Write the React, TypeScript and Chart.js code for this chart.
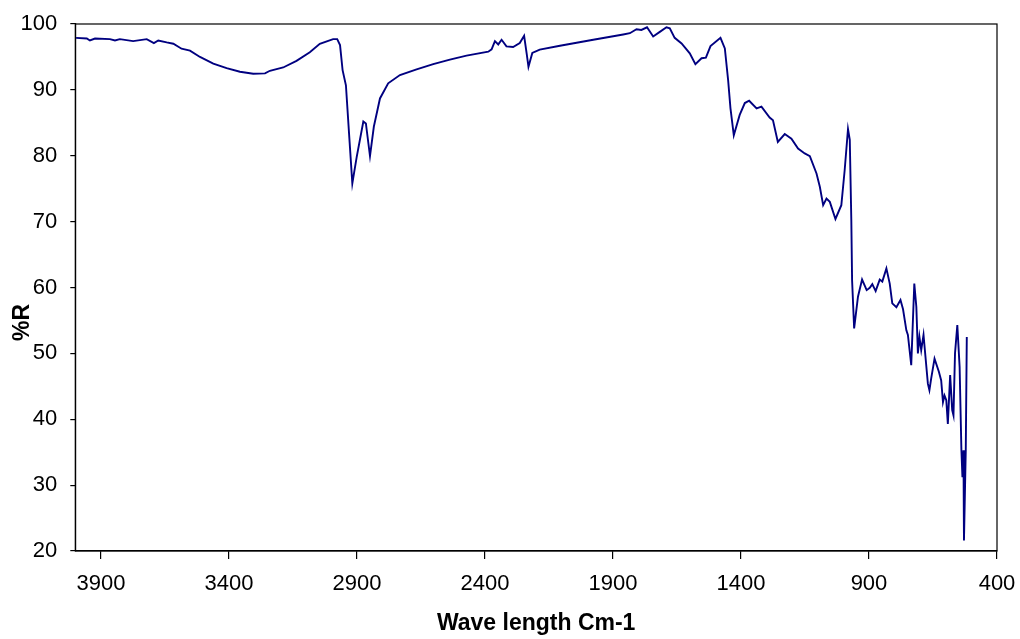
import React, { useEffect, useRef } from "react";
import { Chart, registerables } from "chart.js";

Chart.register(...registerables);

const wavenumbers: number[] = [
  3997, 3955, 3943, 3923, 3865, 3845, 3826, 3774, 3721, 3693, 3676, 3643, 3617, 3585, 3552,
  3513, 3461, 3409, 3357, 3305, 3259, 3240, 3188, 3136, 3084, 3045, 2993, 2977, 2966, 2956,
  2943, 2930, 2918, 2901, 2875, 2865, 2849, 2834, 2810, 2778, 2732, 2667, 2602, 2537, 2472,
  2387, 2374, 2361, 2348, 2335, 2316, 2290, 2264, 2247, 2237, 2230, 2215, 2186, 2107, 1977,
  1860, 1834, 1808, 1789, 1767, 1743, 1717, 1691, 1678, 1659, 1632, 1600, 1578, 1554, 1537,
  1519, 1480, 1463, 1450, 1441, 1428, 1405, 1385, 1368, 1339, 1320, 1288, 1275, 1256, 1229,
  1203, 1177, 1151, 1131, 1105, 1092, 1079, 1066, 1053, 1031, 1008, 995, 982, 975, 969,
  966, 958, 943, 927, 909, 897, 887, 874, 858, 848, 832, 819, 809, 793, 777,
  767, 754, 748, 735, 723, 715, 709, 703, 696, 687, 670, 664, 657, 644, 627,
  618, 611, 605, 598, 592, 583, 575, 570, 564, 555, 546, 539, 535, 531, 529,
  522, 518,
];

const reflectance: number[] = [
  97.9, 97.8, 97.5, 97.8, 97.7, 97.5, 97.7, 97.4, 97.7, 97.1, 97.5, 97.2, 97.0, 96.25, 95.95,
  95.0, 94.0, 93.3, 92.75, 92.45, 92.5, 92.9, 93.4, 94.4, 95.7, 97.0, 97.7, 97.7, 96.8, 93.0,
  90.7, 82.9, 75.8, 79.8, 85.2, 84.9, 79.95, 84.4, 88.7, 91.0, 92.25, 93.1, 93.9, 94.6, 95.2,
  95.8, 96.15, 97.4, 96.9, 97.6, 96.6, 96.5, 97.1, 98.2, 95.5, 93.5, 95.6, 96.1, 96.7, 97.6,
  98.4, 98.6, 99.2, 99.1, 99.5, 98.1, 98.8, 99.5, 99.35, 97.9, 97.05, 95.55, 93.9, 94.8, 94.9,
  96.65, 97.9, 96.3, 91.4, 87.2, 83.1, 86.2, 88.0, 88.35, 87.2, 87.45, 85.8, 85.4, 82.1, 83.3,
  82.6, 81.1, 80.35, 79.95, 77.3, 75.3, 72.5, 73.5, 73.0, 70.4, 72.5, 77.8, 84.05, 82.4, 70.2,
  61.1, 53.8, 58.6, 61.2, 59.6, 59.95, 60.5, 59.45, 61.2, 60.9, 62.9, 60.6, 57.6, 57.0, 58.1,
  56.7, 53.5, 52.8, 48.2, 60.6, 57.05, 50.0, 52.5, 50.5, 52.8, 45.4, 44.4, 46.2, 49.2, 47.2,
  45.9, 42.6, 43.6, 42.9, 39.3, 46.7, 41.4, 40.6, 50.0, 54.3, 47.95, 35.3, 31.2, 35.3, 21.6,
  35.3, 52.5,
];

const xTickValues: number[] = [3900, 3400, 2900, 2400, 1900, 1400, 900, 400];
const xTitle = "Wave length Cm-1";
const yTitle = "%R";

const FONT = '"Liberation Sans", Arial, Helvetica, sans-serif';

const framePlugin = {
  id: "frame",
  afterDraw(chart: any) {
    const { ctx, chartArea } = chart;
    ctx.save();
    ctx.strokeStyle = "#000";
    ctx.lineWidth = 1.2;
    ctx.strokeRect(chartArea.left, chartArea.top, chartArea.right - chartArea.left, chartArea.bottom - chartArea.top);
    // y-axis title, placed as in the original (slightly below the plot centre)
    ctx.translate(22.5, 322.5);
    ctx.rotate(-Math.PI / 2);
    ctx.fillStyle = "#000";
    ctx.font = `bold 23px ${FONT}`;
    ctx.textAlign = "center";
    ctx.textBaseline = "middle";
    ctx.fillText(yTitle, 0, 0);
    ctx.restore();
  },
};

export default function App() {
  const ref = useRef<HTMLCanvasElement | null>(null);

  useEffect(() => {
    if (!ref.current) return;
    const points = wavenumbers.map((w, i) => ({ x: w, y: reflectance[i] }));
    const chart = new Chart(ref.current, {
      type: "line",
      data: {
        datasets: [
          {
            data: points,
            borderColor: "#000080",
            borderWidth: 1.9,
            pointRadius: 0,
            tension: 0,
            fill: false,
          },
        ],
      },
      options: {
        animation: false,
        responsive: false,
        maintainAspectRatio: false,
        layout: { padding: { top: 24, right: 23, left: 0, bottom: 0 } },
        plugins: { legend: { display: false }, tooltip: { enabled: false } },
        scales: {
          x: {
            type: "linear",
            reverse: true,
            min: 400,
            max: 4000,
            afterBuildTicks: (axis: any) => {
              axis.ticks = xTickValues.map((v) => ({ value: v }));
            },
            afterFit: (axis: any) => {
              axis.height = 88;
              axis.paddingLeft = 0;
              axis.paddingRight = 0;
            },
            grid: { drawOnChartArea: false, color: "#000", tickLength: 8, lineWidth: 1.2 },
            border: { color: "#000", width: 1.2 },
            ticks: {
              color: "#000",
              font: { family: FONT, size: 22 },
              padding: 12,
              maxRotation: 0,
              autoSkip: false,
              callback: (v: any) => String(v),
            },
            title: {
              display: true,
              text: xTitle,
              color: "#000",
              font: { family: FONT, size: 23, weight: "bold" },
              padding: { top: 0, bottom: 2 },
            },
          },
          y: {
            min: 20,
            max: 100,
            ticks: {
              stepSize: 10,
              color: "#000",
              font: { family: FONT, size: 22 },
              padding: 13,
              callback: (v: any) => String(v),
            },
            afterFit: (axis: any) => {
              axis.width = 75.3;
              axis.paddingTop = 0;
              axis.paddingBottom = 0;
            },
            grid: { drawOnChartArea: false, color: "#000", tickLength: 5, lineWidth: 1.2 },
            border: { color: "#000", width: 1.2 },
            title: { display: false },
          },
        },
      },
      plugins: [framePlugin],
    });
    return () => chart.destroy();
  }, []);

  return (
    <div style={{ position: "fixed", left: 0, top: 0, width: 1020, height: 639, background: "#fff" }}>
      <canvas ref={ref} width={1020} height={639} style={{ width: 1020, height: 639 }} />
    </div>
  );
}
